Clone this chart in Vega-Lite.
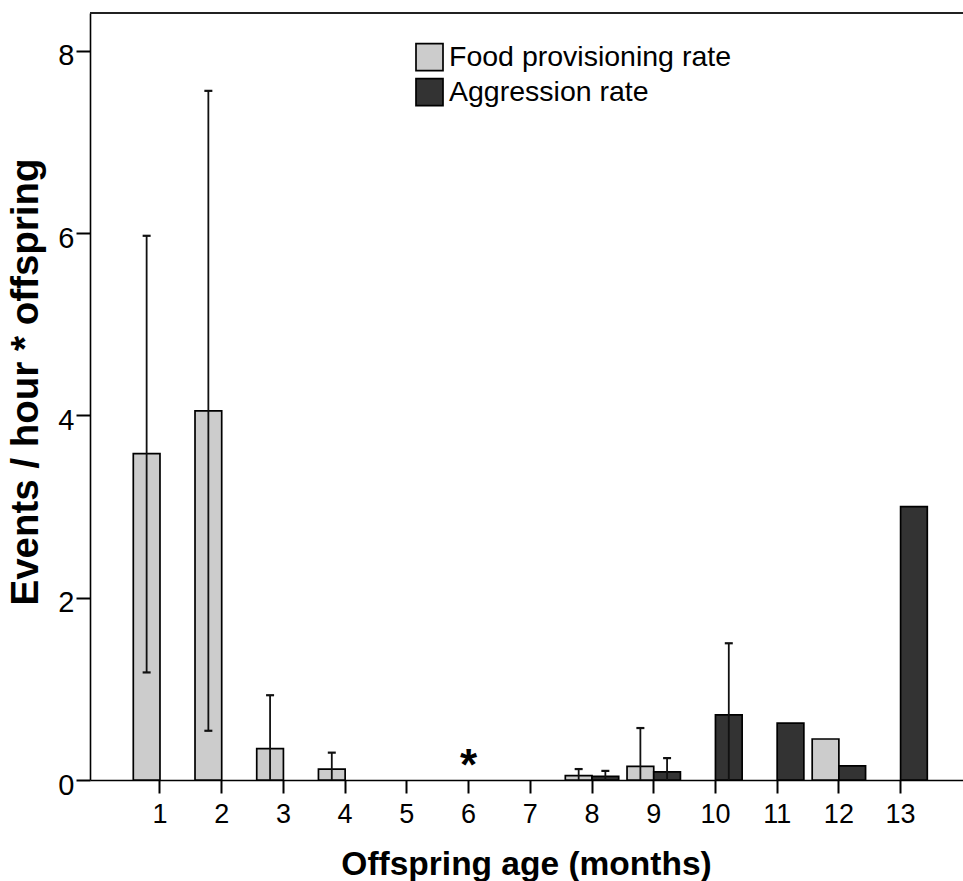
{
  "$schema": "https://vega.github.io/schema/vega-lite/v6.json",
  "width": 873,
  "height": 767,
  "autosize": {"type": "none"},
  "padding": {"left": 90, "top": 13, "right": 0, "bottom": 101},
  "background": "white",
  "config": {
    "view": {"stroke": null},
    "font": "Liberation Sans",
    "axis": {"domainColor": "#000", "domainWidth": 1.6, "tickColor": "#000", "tickWidth": 2, "labelColor": "#000", "titleColor": "#000", "labelFont": "Liberation Sans", "titleFont": "Liberation Sans"}
  },
  "data": {
    "values": [
      {"month": "1", "series": "Food provisioning rate", "value": 3.58, "lo": 1.18, "hi": 5.97},
      {"month": "2", "series": "Food provisioning rate", "value": 4.05, "lo": 0.54, "hi": 7.56},
      {"month": "3", "series": "Food provisioning rate", "value": 0.345, "lo": 0, "hi": 0.93},
      {"month": "4", "series": "Food provisioning rate", "value": 0.12, "lo": 0, "hi": 0.3},
      {"month": "8", "series": "Food provisioning rate", "value": 0.048, "lo": 0, "hi": 0.12},
      {"month": "9", "series": "Food provisioning rate", "value": 0.15, "lo": 0, "hi": 0.57},
      {"month": "12", "series": "Food provisioning rate", "value": 0.45},
      {"month": "8", "series": "Aggression rate", "value": 0.04, "lo": 0, "hi": 0.1},
      {"month": "9", "series": "Aggression rate", "value": 0.09, "lo": 0, "hi": 0.24},
      {"month": "10", "series": "Aggression rate", "value": 0.715, "lo": 0, "hi": 1.5},
      {"month": "11", "series": "Aggression rate", "value": 0.624},
      {"month": "12", "series": "Aggression rate", "value": 0.156},
      {"month": "13", "series": "Aggression rate", "value": 3.0},
      {"month": "6", "series": "note", "label": "*"}
    ]
  },
  "layer": [
    {
      "transform": [{"filter": "datum.series != 'note'"}],
      "mark": {"type": "bar", "stroke": "#000", "strokeWidth": 1.7},
      "encoding": {
        "x": {
          "field": "month", "type": "ordinal",
          "scale": {"domain": ["1","2","3","4","5","6","7","8","9","10","11","12","13"], "paddingInner": 0.135, "paddingOuter": 0.64, "align": 0.548},
          "axis": {"title": "Offspring age (months)", "titleFontSize": 33.5, "titleFontWeight": "bold", "titleX": 436, "titleY": 94, "titleBaseline": "alphabetic", "titleAlign": "center", "labelAngle": 0, "labelFontSize": 27, "tickSize": 13, "labelPadding": 29.7, "labelBaseline": "alphabetic"}
        },
        "xOffset": {"field": "series", "scale": {"domain": ["Food provisioning rate", "Aggression rate"], "paddingInner": 0, "paddingOuter": 0}},
        "y": {
          "field": "value", "type": "quantitative",
          "scale": {"domain": [0, 8.414], "nice": false},
          "axis": {"values": [0, 2, 4, 6, 8], "format": "d", "grid": false, "title": "Events / hour * offspring", "titleFontSize": 38.5, "titleFontWeight": "bold", "titleX": -53, "titleY": 368.5, "titleBaseline": "alphabetic", "titleAlign": "center", "titleAngle": -90, "labelFontSize": 29, "labelPadding": 2, "labelOffset": 5, "tickSize": 14}
        },
        "color": {
          "field": "series", "type": "nominal",
          "scale": {"domain": ["Food provisioning rate", "Aggression rate"], "range": ["#cccccc", "#333333"]},
          "legend": {"orient": "none", "legendX": 325, "legendY": 29.7, "title": null, "symbolType": "square", "symbolSize": 729, "symbolStrokeColor": "#000", "symbolStrokeWidth": 1.7, "symbolOpacity": 1, "labelFontSize": 28.5, "labelColor": "#000", "labelOffset": 5, "labelLimit": 0, "rowPadding": 0, "padding": 0}
        }
      }
    },
    {
      "transform": [{"filter": "isValid(datum.hi)"}],
      "mark": {"type": "rule", "color": "#111", "strokeWidth": 1.8},
      "encoding": {
        "x": {"field": "month", "type": "ordinal"},
        "xOffset": {"field": "series"},
        "y": {"field": "lo", "type": "quantitative"},
        "y2": {"field": "hi"}
      }
    },
    {
      "transform": [{"filter": "isValid(datum.hi)"}],
      "mark": {"type": "tick", "color": "#111", "size": 8, "thickness": 2.2, "opacity": 1},
      "encoding": {
        "x": {"field": "month", "type": "ordinal"},
        "xOffset": {"field": "series"},
        "y": {"field": "hi", "type": "quantitative"}
      }
    },
    {
      "transform": [{"filter": "isValid(datum.lo) && datum.lo > 0"}],
      "mark": {"type": "tick", "color": "#111", "size": 8, "thickness": 2.2, "opacity": 1},
      "encoding": {
        "x": {"field": "month", "type": "ordinal"},
        "xOffset": {"field": "series"},
        "y": {"field": "lo", "type": "quantitative"}
      }
    },
    {
      "transform": [{"filter": "datum.series == 'note'"}],
      "mark": {"type": "text", "fontSize": 44, "fontWeight": "bold", "color": "#000", "baseline": "alphabetic", "align": "center"},
      "encoding": {
        "x": {"field": "month", "type": "ordinal"},
        "y": {"datum": 0},
        "text": {"field": "label"}
      }
    },
    {
      "mark": {"type": "rule", "color": "#222", "strokeWidth": 1.6},
      "encoding": {"y": {"datum": 8.414}}
    }
  ]
}
